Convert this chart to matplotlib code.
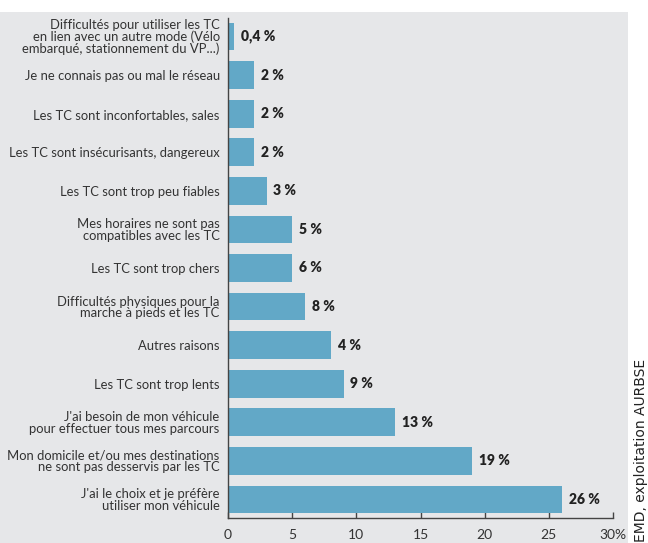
import matplotlib.pyplot as plt
from matplotlib.patches import Rectangle

raisons = [
    "Difficultés pour utiliser les TC\nen lien avec un autre mode (Vélo\nembarqué, stationnement du VP...)",
    "Je ne connais pas ou mal le réseau",
    "Les TC sont inconfortables, sales",
    "Les TC sont insécurisants, dangereux",
    "Les TC sont trop peu fiables",
    "Mes horaires ne sont pas\ncompatibles avec les TC",
    "Les TC sont trop chers",
    "Difficultés physiques pour la\nmarche à pieds et les TC",
    "Autres raisons",
    "Les TC sont trop lents",
    "J'ai besoin de mon véhicule\npour effectuer tous mes parcours",
    "Mon domicile et/ou mes destinations\nne sont pas desservis par les TC",
    "J'ai le choix et je préfère\nutiliser mon véhicule",
]
# bar lengths as drawn in the source, and the printed labels
valeurs = [0.5, 2, 2, 2, 3, 5, 5, 6, 8, 9, 13, 19, 26]
etiquettes = ["0,4 %", "2 %", "2 %", "2 %", "3 %", "5 %", "6 %", "8 %",
              "4 %", "9 %", "13 %", "19 %", "26 %"]
ticks = [0, 5, 10, 15, 20, 25, 30]
tick_labels = ["0", "5", "10", "15", "20", "25", "30%"]

BG = "#e6e7e9"
BAR = "#62a8c7"
TXT = "#333333"

plt.rcParams['font.family'] = ['Lato', 'DejaVu Sans']

fig = plt.figure(figsize=(6.48, 5.43), dpi=100)
fig.patches.append(Rectangle((0, 0), 628 / 648, 1 - 12 / 543, transform=fig.transFigure,
                             facecolor=BG, edgecolor='none', zorder=-10))

ax = fig.add_axes([228 / 648, 1 - 518 / 543, 385 / 648, 500 / 543])
ax.set_facecolor('none')

n = len(raisons)
ypos = [n - 1 - i for i in range(n)]
ax.barh(ypos, valeurs, height=0.72, color=BAR, zorder=2)

for y, v, lab in zip(ypos, valeurs, etiquettes):
    ax.annotate(lab, (v, y), xytext=(5, 0), textcoords='offset points',
                ha='left', va='center', fontsize=10, fontweight='heavy', color='#222222')

ax.set_xlim(0, 30)
ax.set_ylim(-0.48, n - 0.52)
ax.set_xticks(ticks)
ax.set_xticklabels(tick_labels, fontsize=10, color=TXT)
ax.set_yticks(ypos)
ax.set_yticklabels(raisons, fontsize=9.4, color=TXT, linespacing=0.95)
ax.tick_params(axis='y', length=0, pad=6)
ax.tick_params(axis='x', direction='in', length=4, width=1, color='#444444', pad=8)

for s in ['top', 'right']:
    ax.spines[s].set_visible(False)
for s in ['left', 'bottom']:
    ax.spines[s].set_color('#444444')
    ax.spines[s].set_linewidth(1)

fig.text(641 / 648, 0.002, "EMD, exploitation AURBSE", rotation=90,
         ha='center', va='bottom', fontsize=10, color='#222222',
         family=['Liberation Sans Narrow', 'DejaVu Sans'])

fig.savefig('out.png', dpi=100)
